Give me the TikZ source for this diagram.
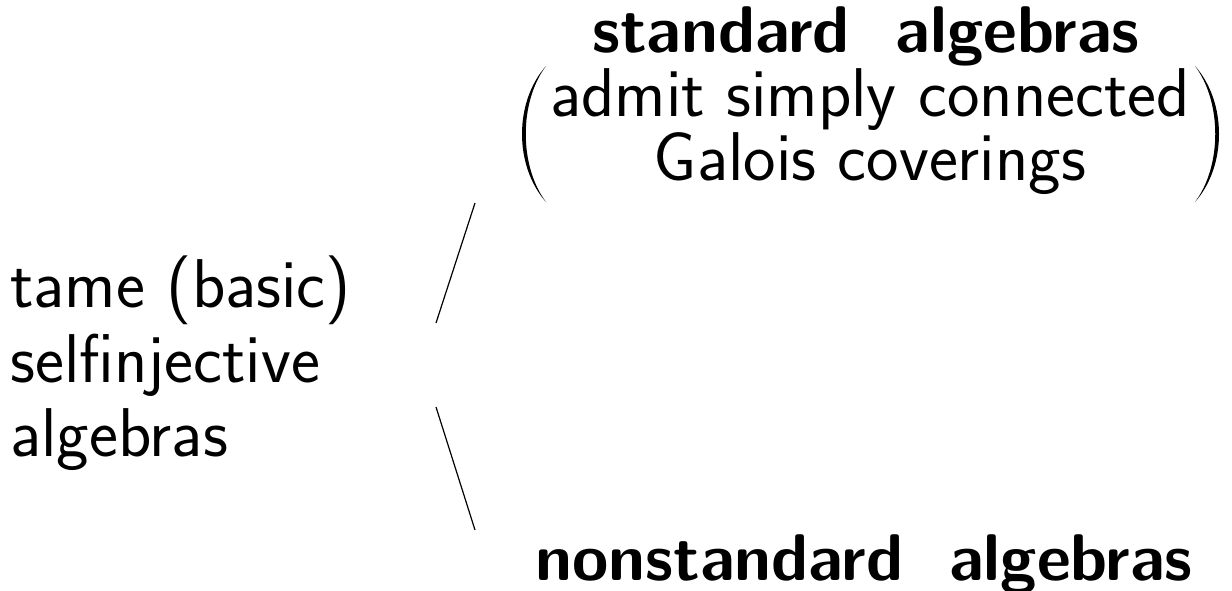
\documentclass[tikz,border=0pt]{standalone}
\begin{document}
\begin{tikzpicture}[x=0.5pt,y=-0.5pt,
  txt/.style={font=\fontsize{34.5}{31}\selectfont\sffamily, inner sep=0pt},
  bold/.style={font=\fontsize{33}{38}\selectfont\sffamily\bfseries, inner sep=0pt},
  conn/.style={line width=0.6pt},
  paren/.style={fill=black}]
\useasboundingbox (0,0) rectangle (1232,590);
\node[bold, anchor=base] (std) at (866,52) {standard\hspace{0.7em}algebras};
\node[txt, anchor=base] (adm1) at (870,116) {admit simply connected};
\node[txt, anchor=base] (adm2) at (870,180) {Galois coverings};
\node[bold, anchor=base] (nonstd) at (864,580) {nonstandard\hspace{0.7em}algebras};
\node[txt, anchor=base west] (l1) at (10,307) {tame (basic)};
\node[txt, anchor=base west] (l2) at (10,382) {selfinjective};
\node[txt, anchor=base west] (l3) at (10,456) {algebras};
% large parentheses
\fill[paren] (546,66) .. controls (514,102) and (514,166) .. (546,202)
  .. controls (519,166) and (519,102) .. cycle;
\fill[paren] (1195,66) .. controls (1227,102) and (1227,166) .. (1195,202)
  .. controls (1222,166) and (1222,102) .. cycle;
\coordinate (u1) at (475,203);
\coordinate (u2) at (436,323);
\coordinate (d1) at (436,407);
\coordinate (d2) at (475,530);
\draw[conn] (u1) -- (u2);
\draw[conn] (d1) -- (d2);
\end{tikzpicture}
\end{document}
